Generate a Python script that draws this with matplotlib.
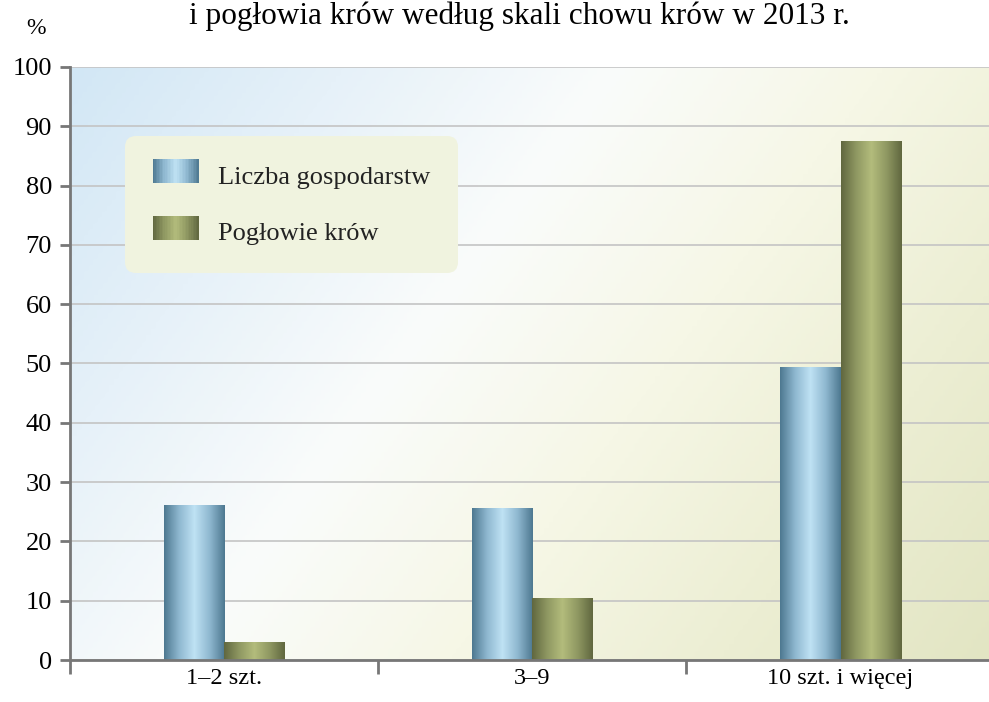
import numpy as np
import matplotlib
matplotlib.use("Agg")
import matplotlib.pyplot as plt
from matplotlib.patches import Rectangle
from matplotlib.colors import LinearSegmentedColormap
from matplotlib.legend_handler import HandlerBase

plt.rcParams['font.family'] = ['Liberation Serif', 'DejaVu Serif']

categories = ['1–2 szt.', '3–9', '10 szt. i więcej']
gospodarstwa = [26.0, 25.5, 49.3]
krowy = [2.9, 10.3, 87.5]
series_names = ['Liczba gospodarstw', 'Pogłowie krów']

blue_cm = LinearSegmentedColormap.from_list('b', ['#4d7890', '#8fb8d0', '#bfe2f4', '#8fb8d0', '#4d7890'])
green_cm = LinearSegmentedColormap.from_list('g', ['#60673f', '#8f9862', '#b3bc7c', '#8f9862', '#60673f'])
grad = np.linspace(0, 1, 256).reshape(1, -1)

fig = plt.figure(figsize=(9.89, 7.02), dpi=100)
ax = fig.add_axes([0.0708, 0.0598, 0.935, 0.8448])

# background gradient: light blue on the left/top -> white -> pale olive bottom-right
bg_cm = LinearSegmentedColormap.from_list('bg', ['#d2e7f5', '#e6f1f9', '#fafcfb', '#f6f7e6', '#eceed3', '#e2e5c3'])
yy, xx = np.mgrid[0:1:200j, 0:1:200j]
d = 0.68 * xx + 0.32 * yy
ax.imshow(d, cmap=bg_cm, extent=[0, 1, 0, 1], transform=ax.transAxes,
          aspect='auto', zorder=0, origin='upper')

x = np.arange(len(categories))
w = 0.196
b1 = ax.bar(x - w / 2, gospodarstwa, w, color='none', zorder=3)
b2 = ax.bar(x + w / 2, krowy, w, color='none', zorder=3)

for bars, cm in ((b1, blue_cm), (b2, green_cm)):
    for p in bars:
        x0, y0 = p.get_x(), p.get_y()
        ax.imshow(grad, cmap=cm, aspect='auto', zorder=3,
                  extent=[x0, x0 + p.get_width(), y0, y0 + p.get_height()])

ax.set_xlim(-0.5, 2.5)
ax.set_ylim(0, 100)
ax.set_yticks(np.arange(0, 101, 10))
ax.yaxis.grid(True, color='#c4c4c4', lw=1.2, zorder=1)
ax.set_axisbelow(True)

ax.set_xticks(x)
ax.set_xticklabels(categories, fontsize=17.5)
ax.set_xticks([-0.5, 0.5, 1.5], minor=True)
ax.tick_params(axis='x', which='major', length=0, pad=6)
ax.tick_params(axis='x', which='minor', length=10, width=2, color='#777777')
ax.tick_params(axis='y', length=7, width=2, color='#777777', labelsize=19, pad=6)

for s in ('top', 'right'):
    ax.spines[s].set_visible(False)
for s in ('left', 'bottom'):
    ax.spines[s].set_color('#777777')
    ax.spines[s].set_linewidth(2)
ax.spines['bottom'].set_zorder(5)


class GradHandler(HandlerBase):
    def __init__(self, cm):
        super().__init__()
        self.cm = cm

    def create_artists(self, legend, orig, xd, yd, width, height, fontsize, trans):
        n = 30
        arts = []
        for i in range(n):
            r = Rectangle((xd + width * i / n, yd - 1), width / n + 0.3, height + 2,
                          facecolor=self.cm((i + 0.5) / n), edgecolor='none', transform=trans)
            arts.append(r)
        return arts


h1 = Rectangle((0, 0), 1, 1)
h2 = Rectangle((0, 0), 1, 1)
leg = ax.legend([h1, h2], series_names, loc='upper left', bbox_to_anchor=(0.0595, 0.8836),
                borderaxespad=0, fontsize=19, frameon=True, fancybox=True, framealpha=1,
                facecolor='#f0f3df', edgecolor='none', borderpad=1.05,
                labelspacing=1.2, handlelength=1.74, handleheight=0.87, handletextpad=0.72,
                handler_map={h1: GradHandler(blue_cm), h2: GradHandler(green_cm)})
leg.get_frame().set_boxstyle('round', pad=0, rounding_size=0.4)
for t in leg.get_texts():
    t.set_color('#222222')
leg.set_zorder(6)

fig.text(0.525, 0.977, 'i pogłowia krów według skali chowu krów w 2013 r.',
         ha='center', va='center', fontsize=22.5)
fig.text(0.036, 0.96, '%', ha='center', va='center', fontsize=17)

fig.savefig('out.png', dpi=100)
